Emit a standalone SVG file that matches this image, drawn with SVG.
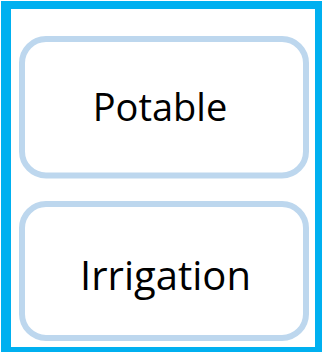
<svg xmlns="http://www.w3.org/2000/svg" width="322" height="352" viewBox="0 0 322 352">
<style>
.box{fill:#ffffff;stroke:#BDD7EE;stroke-width:6}
.lbl{font-family:"Open Sans","Liberation Sans",sans-serif;font-size:38px;fill:#000000;text-anchor:middle}
</style>
<rect x="0" y="0" width="322" height="352" fill="#ffffff"/>
<g id="frame">
<path fill="#00B0F0" fill-rule="evenodd" d="M1 1H322V352H1Z M11 9V347H315V9Z"/>
</g>
<g id="potable">
<rect class="box" x="22" y="39" width="284" height="136.5" rx="24"/>
<text class="lbl" x="160" y="121">Potable</text>
</g>
<g id="irrigation">
<rect class="box" x="22" y="204" width="284" height="134" rx="24"/>
<text class="lbl" x="165.5" y="289.5" style="font-size:40px">Irrigation</text>
</g>
<g id="connectors"></g>
</svg>
